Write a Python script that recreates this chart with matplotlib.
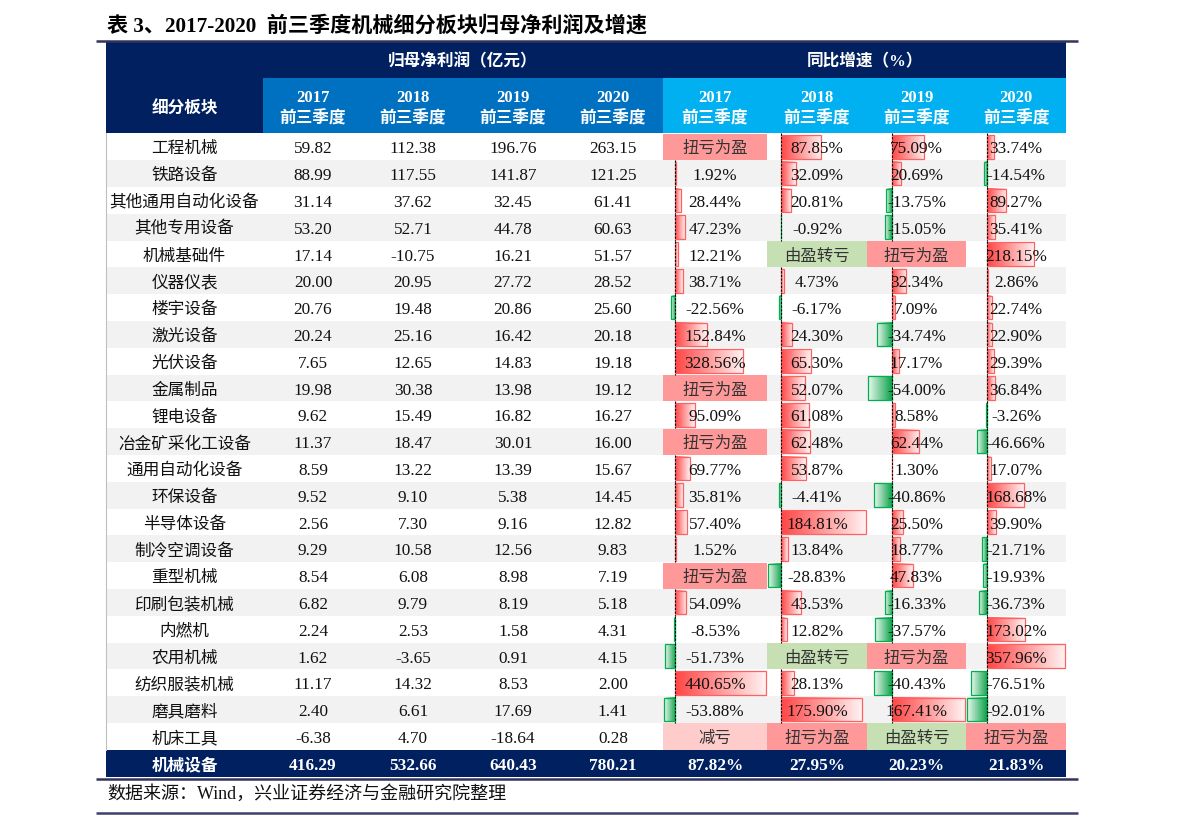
import matplotlib.pyplot as plt
import numpy as np
from matplotlib.patches import Rectangle
from matplotlib.colors import LinearSegmentedColormap

plt.rcParams['font.family'] = ['Liberation Serif', 'Noto Sans CJK SC']

title = '表 3、2017-2020  前三季度机械细分板块归母净利润及增速'
source = '数据来源：Wind，兴业证券经济与金融研究院整理'
years = ['2017', '2018', '2019', '2020']
period = '前三季度'
first_head = '细分板块'
group_heads = ['归母净利润（亿元）', '同比增速（%）']

sectors = ['工程机械', '铁路设备', '其他通用自动化设备', '其他专用设备', '机械基础件', '仪器仪表',
           '楼宇设备', '激光设备', '光伏设备', '金属制品', '锂电设备', '冶金矿采化工设备',
           '通用自动化设备', '环保设备', '半导体设备', '制冷空调设备', '重型机械', '印刷包装机械',
           '内燃机', '农用机械', '纺织服装机械', '磨具磨料', '机床工具']

profit_2017 = [59.82, 88.99, 31.14, 53.20, 17.14, 20.00, 20.76, 20.24, 7.65, 19.98, 9.62, 11.37,
               8.59, 9.52, 2.56, 9.29, 8.54, 6.82, 2.24, 1.62, 11.17, 2.40, -6.38]
profit_2018 = [112.38, 117.55, 37.62, 52.71, -10.75, 20.95, 19.48, 25.16, 12.65, 30.38, 15.49, 18.47,
               13.22, 9.10, 7.30, 10.58, 6.08, 9.79, 2.53, -3.65, 14.32, 6.61, 4.70]
profit_2019 = [196.76, 141.87, 32.45, 44.78, 16.21, 27.72, 20.86, 16.42, 14.83, 13.98, 16.82, 30.01,
               13.39, 5.38, 9.16, 12.56, 8.98, 8.19, 1.58, 0.91, 8.53, 17.69, -18.64]
profit_2020 = [263.15, 121.25, 61.41, 60.63, 51.57, 28.52, 25.60, 20.18, 19.18, 19.12, 16.27, 16.00,
               15.67, 14.45, 12.82, 9.83, 7.19, 5.18, 4.31, 4.15, 2.00, 1.41, 0.28]

growth_2017 = ['扭亏为盈', 1.92, 28.44, 47.23, 12.21, 38.71, -22.56, 152.84, 328.56, '扭亏为盈', 95.09,
               '扭亏为盈', 69.77, 35.81, 57.40, 1.52, '扭亏为盈', 54.09, -8.53, -51.73, 440.65, -53.88, '减亏']
growth_2018 = [87.85, 32.09, 20.81, -0.92, '由盈转亏', 4.73, -6.17, 24.30, 65.30, 52.07, 61.08,
               62.48, 53.87, -4.41, 184.81, 13.84, -28.83, 43.53, 12.82, '由盈转亏', 28.13, 175.90, '扭亏为盈']
growth_2019 = [75.09, 20.69, -13.75, -15.05, '扭亏为盈', 32.34, 7.09, -34.74, 17.17, -54.00, 8.58,
               62.44, 1.30, -40.86, 25.50, 18.77, 47.83, -16.33, -37.57, '扭亏为盈', -40.43, 167.41, '由盈转亏']
growth_2020 = [33.74, -14.54, 89.27, 35.41, 218.15, 2.86, 22.74, 22.90, 29.39, 36.84, -3.26,
               -46.66, 17.07, 168.68, 39.90, -21.71, -19.93, -36.73, 173.02, 357.96, -76.51, -92.01, '扭亏为盈']

total_name = '机械设备'
total_profit = [416.29, 532.66, 640.43, 780.21]
total_growth = [87.82, 27.95, 20.23, 21.83]

profits = [profit_2017, profit_2018, profit_2019, profit_2020]
growths = [growth_2017, growth_2018, growth_2019, growth_2020]

# colours
navy = '#002060'
mid_blue = '#0070C0'
light_blue = '#00B0F0'
stripe = '#F2F2F2'
status_fill = {'扭亏为盈': '#FF9999', '由盈转亏': '#C6E0B4', '减亏': '#FFCCCC'}
red_cmap = LinearSegmentedColormap.from_list('red_bar', ['#FF4545', '#FFF2F2'])
green_cmap = LinearSegmentedColormap.from_list('green_bar', ['#0BA34A', '#EEF8F1'])

# layout in pixels
col_edges = [106, 263, 363, 463, 563, 663, 767, 867, 966, 1066]
head_top, head_mid, head_bot = 42, 78, 133.5
row_h = 26.8
dy = 2.5  # text sits a little below the row centre
txt = '#111111'

fig = plt.figure(figsize=(11.91, 8.21), dpi=100)
ax = fig.add_axes([0, 0, 1, 1])
ax.axis('off')

# title and rules
ax.text(107, 26, title, fontsize=15.2, fontweight='bold', va='center', ha='left', color='black')
ax.plot([96, 1078], [40.7, 40.7], color='#33335F', lw=1.8, solid_capstyle='butt')

# header
ax.add_patch(Rectangle((col_edges[0], head_top), col_edges[-1] - col_edges[0], head_bot - head_top,
                       facecolor=navy, edgecolor='none'))
ax.add_patch(Rectangle((col_edges[1], head_mid), col_edges[5] - col_edges[1], head_bot - head_mid,
                       facecolor=mid_blue, edgecolor='none'))
ax.add_patch(Rectangle((col_edges[5], head_mid), col_edges[9] - col_edges[5], head_bot - head_mid,
                       facecolor=light_blue, edgecolor='none'))
ax.text((col_edges[0] + col_edges[1]) / 2, 107 + dy, first_head, color='white', fontsize=12,
        fontweight='bold', ha='center', va='center')
ax.text((col_edges[1] + col_edges[5]) / 2, 60 + dy, group_heads[0], color='white', fontsize=12,
        fontweight='bold', ha='center', va='center')
ax.text((col_edges[5] + col_edges[9]) / 2, 60 + dy, group_heads[1], color='white', fontsize=12,
        fontweight='bold', ha='center', va='center')
for j in range(8):
    cx = (col_edges[j + 1] + col_edges[j + 2]) / 2
    ax.text(cx, 95 + dy, years[j % 4], color='white', fontsize=12, fontweight='bold', ha='center', va='center')
    ax.text(cx, 117 + dy, period, color='white', fontsize=12, fontweight='bold', ha='center', va='center')

# body
n = len(sectors)
for i in range(n):
    top = head_bot + i * row_h
    cy = top + row_h / 2 + dy
    if i % 2 == 1:
        ax.add_patch(Rectangle((col_edges[0], top), col_edges[-1] - col_edges[0], row_h,
                               facecolor=stripe, edgecolor='none', zorder=0))
    ax.text((col_edges[0] + col_edges[1]) / 2, cy, sectors[i], fontsize=12, color=txt,
            ha='center', va='center')
    for j in range(4):
        ax.text((col_edges[j + 1] + col_edges[j + 2]) / 2, cy, f'{profits[j][i]:.2f}', fontsize=12.4,
                color=txt, ha='center', va='center')

# growth columns with data bars
for j, g in enumerate(growths):
    left, right = col_edges[j + 5], col_edges[j + 6]
    nums = [v for v in g if not isinstance(v, str)]
    lo, hi = min(min(nums), 0), max(nums)
    scale = (right - left - 2.5) / (hi - lo)
    axis_x = left + 1.2 - lo * scale
    cx = (left + right) / 2
    for i, v in enumerate(g):
        top = head_bot + i * row_h
        cy = top + row_h / 2 + dy
        if isinstance(v, str):
            ax.add_patch(Rectangle((left, top + 0.3), right - left, row_h - 0.6,
                                   facecolor=status_fill[v], edgecolor='none', zorder=1))
            ax.text(cx, cy, v, fontsize=11.8, color='#333333', ha='center', va='center', zorder=5)
            continue
        length = abs(v) * scale
        y0, y1 = top + 1.6, top + row_h - 1.6
        if length > 0.3:
            grad = np.linspace(0, 1, 256).reshape(1, -1)
            if v >= 0:
                ax.imshow(grad, cmap=red_cmap, extent=(axis_x, axis_x + length, y1, y0),
                          aspect='auto', zorder=2, interpolation='bilinear')
                ax.add_patch(Rectangle((axis_x, y0), length, y1 - y0, fill=False,
                                       edgecolor='#FF6161', lw=0.9, zorder=3))
            else:
                ax.imshow(grad[:, ::-1], cmap=green_cmap, extent=(axis_x - length, axis_x, y1, y0),
                          aspect='auto', zorder=2, interpolation='bilinear')
                ax.add_patch(Rectangle((axis_x - length, y0), length, y1 - y0, fill=False,
                                       edgecolor='#00B050', lw=0.9, zorder=3))
        ax.plot([axis_x, axis_x], [top, top + row_h], color='black', lw=0.8,
                ls=(0, (2, 1.3)), zorder=4)
        ax.text(cx, cy, f'{v:.2f}%', fontsize=12.4, color=txt, ha='center', va='center', zorder=5)

# total row
t_top = head_bot + n * row_h
t_h = 777 - t_top
ax.add_patch(Rectangle((col_edges[0], t_top), col_edges[-1] - col_edges[0], t_h,
                       facecolor=navy, edgecolor='none', zorder=1))
t_cy = t_top + t_h / 2 + dy
ax.text((col_edges[0] + col_edges[1]) / 2, t_cy, total_name, color='white', fontsize=12,
        fontweight='bold', ha='center', va='center', zorder=5)
for j in range(4):
    ax.text((col_edges[j + 1] + col_edges[j + 2]) / 2, t_cy, f'{total_profit[j]:.2f}', color='white',
            fontsize=12.4, fontweight='bold', ha='center', va='center', zorder=5)
    ax.text((col_edges[j + 5] + col_edges[j + 6]) / 2, t_cy, f'{total_growth[j]:.2f}%', color='white',
            fontsize=12.4, fontweight='bold', ha='center', va='center', zorder=5)

# left border and bottom rules
ax.plot([col_edges[0], col_edges[0]], [head_bot, t_top], color='#BFBFBF', lw=0.8)
ax.plot([96, 1078], [779, 779], color='#33335F', lw=1.8, solid_capstyle='butt')
ax.text(107, 791 + dy, source, fontsize=13, color=txt, ha='left', va='center')
ax.plot([96, 1078], [813.5, 813.5], color='#3F3F6F', lw=1.8, solid_capstyle='butt')

ax.set_xlim(0, 1191)
ax.set_ylim(821, 0)
fig.savefig('out.png', dpi=100)
